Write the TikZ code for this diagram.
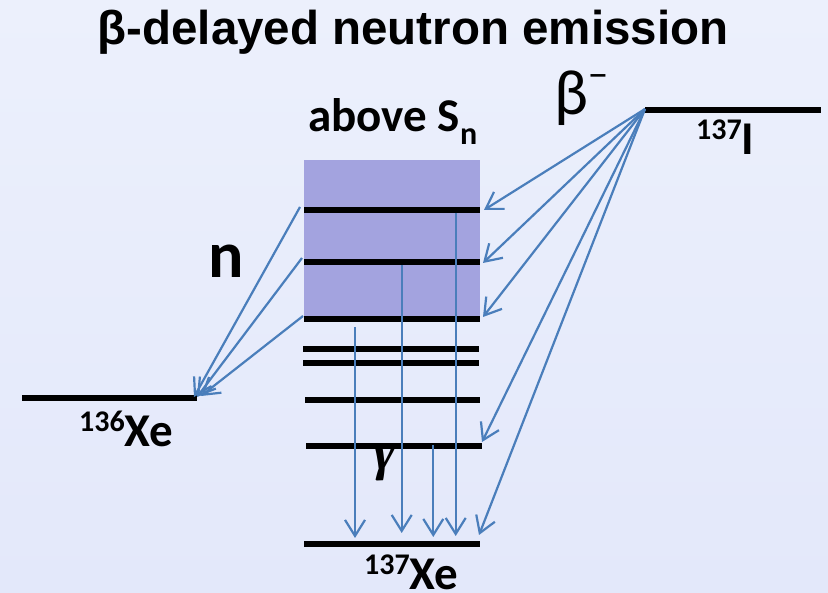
\documentclass[tikz,border=0pt]{standalone}
\usepackage{fontspec}
\setmainfont{Carlito}
\newfontfamily\arialfont{Liberation Sans}
\newfontfamily\timesfont{Liberation Serif}
\usetikzlibrary{arrows.meta}
\definecolor{bgtop}{RGB}{236,240,252}
\definecolor{bgbot}{RGB}{227,232,250}
\definecolor{boxfill}{RGB}{163,163,223}
\definecolor{arrowblue}{RGB}{74,126,187}
\newcommand{\supnum}[1]{\raisebox{15pt}{\fontsize{30}{30}\selectfont #1}}
\begin{document}
\begin{tikzpicture}[x=1pt,y=-1pt,
  levelline/.style={line width=6pt, black},
  bluearrow/.style={draw=arrowblue, line width=2.2pt, -{Straight Barb[length=16pt,width=20pt]}},
  lab/.style={inner sep=0pt, font=\fontsize{47}{47}\selectfont\bfseries}]
\shade[top color=bgtop, bottom color=bgbot] (0,0) rectangle (828,593);
\useasboundingbox (0,0) rectangle (828,593);
% box above Sn
\fill[boxfill] (304,160) rectangle (480,318);
% level coordinates
\coordinate (Iw) at (645,110); \coordinate (Ie) at (821,110);
\coordinate (Aw) at (304,210); \coordinate (Ae) at (480,210);
\coordinate (Bw) at (304,262); \coordinate (Be) at (480,262);
\coordinate (Cw) at (304,319); \coordinate (Ce) at (480,319);
\coordinate (Dw) at (303,349); \coordinate (De) at (479,349);
\coordinate (Ew) at (303,363); \coordinate (Ee) at (479,363);
\coordinate (Fw) at (305,400); \coordinate (Fe) at (480,400);
\coordinate (Gw) at (306,446); \coordinate (Ge) at (482,446);
\coordinate (Hw) at (304,544); \coordinate (He) at (480,544);
\coordinate (Xw) at (22,398);  \coordinate (Xe) at (197,398);
\foreach \l in {I,A,B,C,D,E,F,G,H,X}{\draw[levelline] (\l w) -- (\l e);}
% beta arrows
\coordinate (bsrc) at (645,109);
\coordinate (bt1) at (484,210);
\coordinate (bt2) at (483,263);
\coordinate (bt3) at (483,317);
\coordinate (bt4) at (482,442);
\coordinate (bt5) at (479,535);
\foreach \t in {bt1,bt2,bt3,bt4,bt5}{\draw[bluearrow] (bsrc) -- (\t);}
% neutron arrows
\coordinate (ns1) at (300,207); \coordinate (nt1) at (194,397);
\coordinate (ns2) at (302,258); \coordinate (nt2) at (197,397);
\coordinate (ns3) at (303,316); \coordinate (nt3) at (201,396);
\draw[bluearrow] (ns1) -- (nt1);
\draw[bluearrow] (ns2) -- (nt2);
\draw[bluearrow] (ns3) -- (nt3);
% gamma arrows
\coordinate (gs1) at (355,327);   \coordinate (gt1) at (355,538);
\coordinate (gs2) at (401.7,265); \coordinate (gt2) at (401.7,533);
\coordinate (gs3) at (433.3,445); \coordinate (gt3) at (433.3,537);
\coordinate (gs4) at (455.7,213); \coordinate (gt4) at (455.7,536);
\foreach \i in {1,2,3,4}{\draw[bluearrow] (gs\i) -- (gt\i);}
% texts
\node[inner sep=0pt, anchor=base, font=\arialfont\bfseries\fontsize{47.5}{47.5}\selectfont] (title) at (413,45) {β-delayed neutron emission};
\node[lab, anchor=base west] (aboveSn) at (308,132) {above S\raisebox{-13pt}{\fontsize{32}{32}\selectfont n}};
\node[inner sep=0pt, anchor=base west, font=\fontsize{64}{64}\selectfont] (betaminus) at (554,115) {β\raisebox{26pt}{\fontsize{40}{40}\selectfont −}};
\node[lab, anchor=base west] (lblI) at (696,155) {\supnum{137}I};
\node[lab, anchor=base west] (lblX136) at (79,447) {\supnum{136}Xe};
\node[lab, anchor=base west] (lblX137) at (364,590) {\supnum{137}Xe};
\node[inner sep=0pt, anchor=base west, font=\fontsize{66}{66}\selectfont\bfseries] (nlab) at (208,278) {n};
\node[inner sep=0pt, anchor=base, font=\timesfont\bfseries\itshape\fontsize{54}{54}\selectfont] (glab) at (385,470) {γ};
\end{tikzpicture}
\end{document}
